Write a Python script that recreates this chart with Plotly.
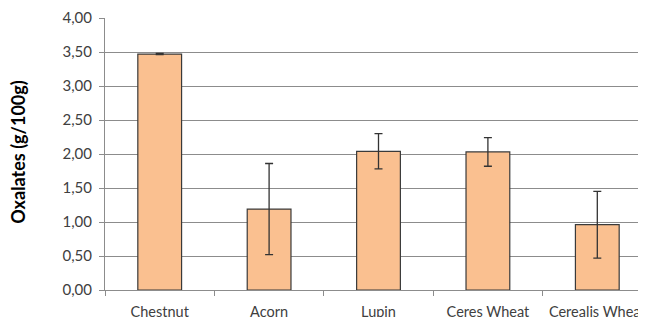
import plotly.graph_objects as go

categories = ["Chestnut", "Acorn", "Lupin", "Ceres Wheat", "Cerealis Wheat"]
oxalates = [3.47, 1.19, 2.04, 2.03, 0.96]
errors = [0.01, 0.67, 0.26, 0.21, 0.49]
y_ticks = [0, 0.5, 1.0, 1.5, 2.0, 2.5, 3.0, 3.5, 4.0]

fig = go.Figure()
fig.add_trace(go.Bar(
    x=categories, y=oxalates, width=0.4,
    marker=dict(color="#FAC090", line=dict(color="#3a3a3a", width=1.2)),
    error_y=dict(type="data", array=errors, visible=True, color="#333333",
                 thickness=1.3, width=4),
))

fig.add_annotation(
    text="<b>Oxalates (g/100g)</b>", textangle=-90,
    xref="paper", yref="paper", x=-0.159, y=0.505,
    xanchor="center", yanchor="middle", showarrow=False,
    font=dict(size=18, color="#000000"),
)

fig.update_layout(
    width=646, height=317,
    margin=dict(l=97, r=2, t=10, b=35),
    paper_bgcolor="white", plot_bgcolor="white",
    separators=", ",
    showlegend=False,
    font=dict(family="Lato, Open Sans, sans-serif", color="#404040", size=14),
    xaxis=dict(range=[-0.5, 4.5], showgrid=False, showline=True, linecolor="#8c8c8c",
               linewidth=1, ticks="outside", tickson="boundaries", ticklen=5,
               tickcolor="#8c8c8c", automargin=False, ticklabelstandoff=9,
               tickfont=dict(size=14.5, color="#404040")),
    yaxis=dict(range=[0, 4.0], tickvals=y_ticks, tickformat=".2f", showgrid=True,
               gridcolor="#8c8c8c", gridwidth=1, showline=True, linecolor="#8c8c8c",
               ticks="outside", ticklen=5, tickcolor="#8c8c8c", zeroline=False,
               automargin=False, ticklabelstandoff=4,
               tickfont=dict(size=15, color="#404040")),
)

fig.write_html("out.html")
